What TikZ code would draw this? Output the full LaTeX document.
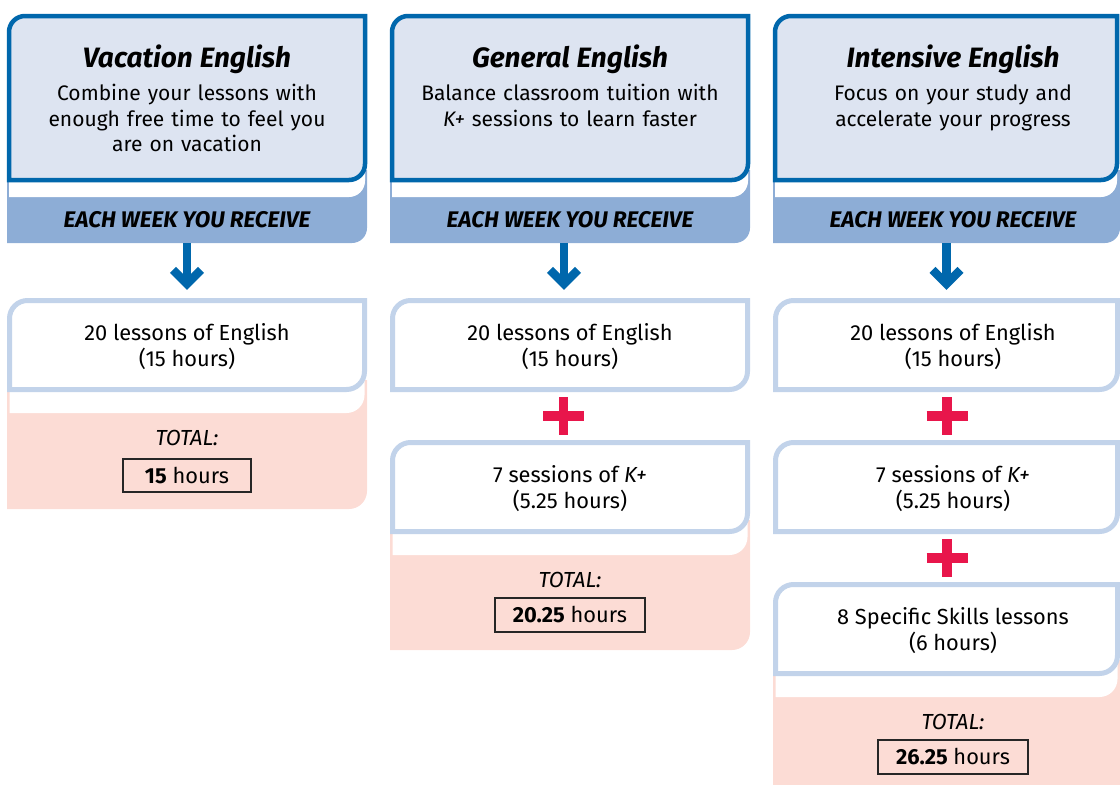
\documentclass[tikz,border=0pt]{standalone}
\usepackage{fontspec}
\setmainfont{Fira Sans}
\usepackage{tikz}
\usetikzlibrary{arrows.meta}

\definecolor{hdrblue}{RGB}{0,103,172}
\definecolor{hdrfill}{RGB}{221,228,241}
\definecolor{bandblue}{RGB}{141,173,214}
\definecolor{boxline}{RGB}{194,211,234}
\definecolor{totalpink}{RGB}{252,220,213}
\definecolor{plusred}{RGB}{232,22,75}

\newcommand{\headfont}{\fontsize{28pt}{30pt}\selectfont\bfseries\itshape}
\newcommand{\tlbr}[5]{(#1,#4) -- (#1,#2+#5) arc[start angle=180,end angle=270,radius=#5] -- (#3,#2) -- (#3,#4-#5) arc[start angle=0,end angle=90,radius=#5] -- cycle}
\newcommand{\brcorner}[5]{(#1,#2) -- (#3,#2) -- (#3,#4-#5) arc[start angle=0,end angle=90,radius=#5] -- (#1,#4) -- cycle}

\begin{document}
\begin{tikzpicture}[x=1pt,y=-1pt,
    every node/.style={inner sep=0pt,align=center,font=\fontsize{21pt}{25.5pt}\selectfont},
    headbox/.style={fill=hdrfill,draw=hdrblue,line width=4.5pt},
    lessonbox/.style={fill=white,draw=boxline,line width=5pt},
    band/.style={minimum width=360pt,minimum height=46pt,font=\fontsize{22.6pt}{25pt}\selectfont\bfseries\itshape},
    lesson/.style={minimum width=355pt,minimum height=89pt,font=\fontsize{21.8pt}{26pt}\selectfont},
    hours/.style={draw=black!85,line width=1.2pt,minimum width=150pt,minimum height=34pt},
    downarrow/.style={hdrblue,line width=8.5pt,-{Straight Barb[length=14pt,width=28pt]},shorten >=10.5pt},
    plus/.pic={\draw[plusred,line width=9.5pt] (-20.5,0) -- (20.5,0) (0,-19) -- (0,19);}]
      \useasboundingbox (0,0) rectangle (1120,785);

      \fill[bandblue] \brcorner{7}{170}{367}{243}{15};
      \fill[bandblue] \brcorner{390}{170}{750}{243}{15};
      \fill[bandblue] \brcorner{773}{170}{1120}{243}{15};
      \fill[white] \tlbr{9}{16}{365}{197}{16};
      \fill[white] \tlbr{392}{16}{748}{197}{16};
      \fill[white] \tlbr{775}{16}{1117}{197}{16};
      \path[headbox] \tlbr{9}{16}{365}{180}{16};
      \path[headbox] \tlbr{392}{16}{748}{180}{16};
      \path[headbox] \tlbr{775}{16}{1117}{180}{16};

      \fill[totalpink] \brcorner{7}{380}{367}{509}{18};
      \fill[totalpink] \brcorner{390}{520}{750}{650}{18};
      \fill[totalpink] (773,660) rectangle (1120,785);
      \fill[white] \tlbr{9.5}{300.5}{364.5}{413}{18};
      \fill[white] \tlbr{392.5}{442.5}{747.5}{555}{18};
      \fill[white] \tlbr{775.5}{584.5}{1117.5}{697}{18};
      \path[lessonbox] \tlbr{9.5}{300.5}{364.5}{389.5}{18};
      \path[lessonbox] \tlbr{392.5}{300.5}{747.5}{389.5}{18};
      \path[lessonbox] \tlbr{392.5}{442.5}{747.5}{531.5}{18};
      \path[lessonbox] \tlbr{775.5}{300.5}{1117.5}{389.5}{18};
      \path[lessonbox] \tlbr{775.5}{442.5}{1117.5}{531.5}{18};
      \path[lessonbox] \tlbr{775.5}{584.5}{1117.5}{673.5}{18};

      \node[anchor=north,text width=350pt] (vac) at (187,44.5) {{\headfont Vacation English}\\[8pt]
        Combine your lessons with\\enough free time to feel you\\are on vacation};
      \node[anchor=north,text width=350pt] (gen) at (570,44.5) {{\headfont General English}\\[8pt]
        Balance classroom tuition with\\\textit{K+} sessions to learn faster};
      \node[anchor=north,text width=350pt] (int) at (953,44.5) {{\headfont Intensive English}\\[8pt]
        Focus on your study and\\accelerate your progress};

      \node[band] (b1) at (187,220) {EACH WEEK YOU RECEIVE};
      \node[band] (b2) at (570,220) {EACH WEEK YOU RECEIVE};
      \node[band] (b3) at (953,220) {EACH WEEK YOU RECEIVE};

      \node[lesson] (c11) at (187,347) {20 lessons of English\\(15 hours)};
      \node[lesson] (c21) at (570,347) {20 lessons of English\\(15 hours)};
      \node[lesson] (c22) at (570,489) {7 sessions of \textit{K+}\\(5.25 hours)};
      \node[lesson] (c31) at (953,347) {20 lessons of English\\(15 hours)};
      \node[lesson] (c32) at (953,489) {7 sessions of \textit{K+}\\(5.25 hours)};
      \node[lesson] (c33) at (953,631) {8 Specific Skills lessons\\(6 hours)};

      \draw[downarrow] (b1.south) -- ([yshift=2pt]c11.north);
      \draw[downarrow] ([xshift=-6pt]b2.south) -- ([xshift=-6pt,yshift=2pt]c21.north);
      \draw[downarrow] ([xshift=-6.5pt]b3.south) -- ([xshift=-6.5pt,yshift=2pt]c31.north);

      \pic at (563.5,416) {plus};
      \pic at (947,416) {plus};
      \pic at (947,558) {plus};

      \node[font=\fontsize{21.8pt}{26pt}\selectfont] (t1) at (187,438) {\textit{TOTAL:}};
      \node[hours,minimum width=128pt,minimum height=33pt,font=\fontsize{21.8pt}{26pt}\selectfont] (h1) at (187,475.5) {\textbf{15} hours};
      \node[font=\fontsize{21.8pt}{26pt}\selectfont] (t2) at (570,580) {\textit{TOTAL:}};
      \node[hours,font=\fontsize{21.8pt}{26pt}\selectfont] (h2) at (570,615) {\textbf{20.25} hours};
      \node[font=\fontsize{21.8pt}{26pt}\selectfont] (t3) at (953,722) {\textit{TOTAL:}};
      \node[hours,font=\fontsize{21.8pt}{26pt}\selectfont] (h3) at (953,757) {\textbf{26.25} hours};
    \end{tikzpicture}
\end{document}
